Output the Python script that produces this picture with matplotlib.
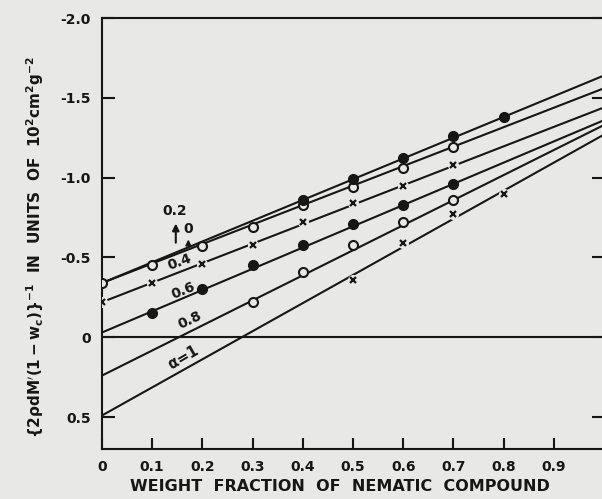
import matplotlib.pyplot as plt

# fitted straight lines: value at w=0 and at w=1 for each alpha
alphas = ['0', '0.2', '0.4', '0.6', '0.8', '1']
line_start = [-0.34, -0.34, -0.22, -0.03, 0.24, 0.49]
line_end = [-1.56, -1.64, -1.44, -1.36, -1.33, -1.27]

# measured points
x_a0 = [0, 0.1, 0.2, 0.3, 0.4, 0.5, 0.6, 0.7]
y_a0 = [-0.34, -0.45, -0.57, -0.69, -0.83, -0.94, -1.06, -1.19]
x_a02 = [0.4, 0.5, 0.6, 0.7, 0.8]
y_a02 = [-0.86, -0.99, -1.125, -1.26, -1.38]
x_a04 = [0, 0.1, 0.2, 0.3, 0.4, 0.5, 0.6, 0.7]
y_a04 = [-0.22, -0.34, -0.46, -0.575, -0.72, -0.84, -0.95, -1.08]
x_a06 = [0.1, 0.2, 0.3, 0.4, 0.5, 0.6, 0.7]
y_a06 = [-0.15, -0.30, -0.45, -0.575, -0.71, -0.83, -0.96]
x_a08 = [0.3, 0.4, 0.5, 0.6, 0.7]
y_a08 = [-0.22, -0.41, -0.575, -0.725, -0.86]
x_a1 = [0.5, 0.6, 0.7, 0.8]
y_a1 = [-0.36, -0.59, -0.775, -0.90]

xticks = [0, 0.1, 0.2, 0.3, 0.4, 0.5, 0.6, 0.7, 0.8, 0.9]
xticklabels = ['0', '0.1', '0.2', '0.3', '0.4', '0.5', '0.6', '0.7', '0.8', '0.9']
yticks = [-2.0, -1.5, -1.0, -0.5, 0, 0.5]
yticklabels = ['-2.0', '-1.5', '-1.0', '-0.5', '0', '0.5']

bg = '#e8e8e6'
ink = '#161616'

plt.rcParams['font.family'] = 'DejaVu Sans'
plt.rcParams['font.weight'] = 'bold'
plt.rcParams['axes.labelweight'] = 'bold'
plt.rcParams['mathtext.fontset'] = 'dejavusans'
plt.rcParams['mathtext.default'] = 'bf'

fig = plt.figure(figsize=(6.02, 4.99), dpi=100, facecolor=bg)
ax = fig.add_axes([0.1694, 0.1002, 0.834, 0.8637], facecolor=bg)

# lines
for s, e in zip(line_start, line_end):
    ax.plot([0, 1], [s, e], color=ink, lw=1.5, zorder=2)
ax.axhline(0, color=ink, lw=1.5, zorder=2)

# markers (crosses sit in a small gap cut out of the line)
ax.plot(x_a0, y_a0, 'o', ms=6.5, mfc=bg, mec=ink, mew=1.5, zorder=3)
ax.plot(x_a02, y_a02, 'o', ms=7, mfc=ink, mec=ink, zorder=3)
for xs, ys in [(x_a04, y_a04), (x_a1, y_a1)]:
    ax.plot(xs, ys, 'o', ms=8, mfc=bg, mec='none', zorder=3)
    ax.plot(xs, ys, 'x', ms=4.5, mec=ink, mew=1.6, zorder=4)
ax.plot(x_a06, y_a06, 'o', ms=7, mfc=ink, mec=ink, zorder=3)
ax.plot(x_a08, y_a08, 'o', ms=6.5, mfc=bg, mec=ink, mew=1.5, zorder=3)

# alpha labels
ax.text(0.145, -0.79, '0.2', fontsize=10, ha='center', va='center', color=ink)
ax.annotate('', xy=(0.147, -0.73), xytext=(0.147, -0.575),
            arrowprops=dict(arrowstyle='-|>', color=ink, lw=1.5, mutation_scale=10))
ax.text(0.172, -0.68, '0', fontsize=10, ha='center', va='center', color=ink)
ax.annotate('', xy=(0.172, -0.63), xytext=(0.172, -0.565),
            arrowprops=dict(arrowstyle='-|>', color=ink, lw=1.2, mutation_scale=8))
ax.text(0.155, -0.47, '0.4', fontsize=10, ha='center', va='center', rotation=20, color=ink)
ax.text(0.162, -0.29, '0.6', fontsize=10, ha='center', va='center', rotation=22, color=ink)
ax.text(0.176, -0.11, '0.8', fontsize=10, ha='center', va='center', rotation=25, color=ink)
ax.text(0.162, 0.125, r'$\alpha$=1', fontsize=10.5, ha='center', va='center', rotation=30, color=ink)

ax.set_xlim(0, 1.0)
ax.set_ylim(0.7, -2.0)

ax.set_xticks(xticks)
ax.set_xticklabels(xticklabels, fontsize=10, color=ink)
ax.set_yticks(yticks)
ax.set_yticklabels(yticklabels, fontsize=10, color=ink)
ax.tick_params(axis='x', direction='in', length=8, width=1.5, pad=8, colors=ink)
ax.tick_params(axis='y', direction='in', length=9, width=1.5, pad=8, colors=ink,
               right=True)
for sp in ax.spines.values():
    sp.set_linewidth(1.5)
    sp.set_color(ink)

ax.set_xlabel('WEIGHT  FRACTION  OF  NEMATIC  COMPOUND', fontsize=11.5, color=ink)
ax.xaxis.set_label_coords(0.474, -0.07)
fig.text(0.058, 0.505,
         r'$\{2\rho dM^{\prime}(1-w_c)\}^{-1}$  IN  UNITS  OF  $10^2$cm$^2$g$^{-2}$',
         rotation=90, ha='center', va='center', fontsize=11, color=ink)

fig.savefig('out.png', dpi=100, facecolor=bg)
